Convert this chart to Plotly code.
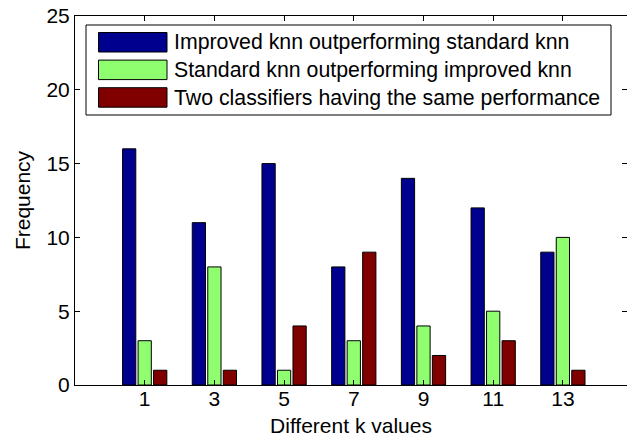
import plotly.graph_objects as go

# k values on the x axis
k_values = [1, 3, 5, 7, 9, 11, 13]

# frequency counts per comparison outcome
improved_better = [16, 11, 15, 8, 14, 12, 9]
standard_better = [3, 8, 1, 3, 4, 5, 10]
same_performance = [1, 1, 4, 9, 2, 3, 1]

series_names = [
    "Improved knn outperforming standard knn",
    "Standard knn outperforming improved knn",
    "Two classifiers having the same performance",
]
series_values = [improved_better, standard_better, same_performance]
series_colors = ["#00008F", "#8FFF70", "#800000"]

y_ticks = [0, 5, 10, 15, 20, 25]

FONT = "Arial, Liberation Sans, sans-serif"

fig = go.Figure()
for name, vals, col in zip(series_names, series_values, series_colors):
    fig.add_trace(go.Bar(
        x=k_values, y=vals, name=name,
        marker=dict(color=col, line=dict(color="#000000", width=1)),
        showlegend=False,
    ))

W, H = 627, 441
ml, mr, mt, mb = 75, 0, 16, 56
pw, ph = W - ml - mr, H - mt - mb


def px_x(px):
    return (px - ml) / pw


def px_y(py):
    return (H - mb - py) / ph


# boxed legend with wide swatches
shapes = [dict(type="rect", xref="paper", yref="paper",
               x0=px_x(86), x1=px_x(611), y0=px_y(115), y1=px_y(25),
               line=dict(color="#000000", width=1), fillcolor="#ffffff",
               layer="above")]
annotations = []
row_top = 32.5
row_step = 27.6
for i, (name, col) in enumerate(zip(series_names, series_colors)):
    t = row_top + i * row_step
    shapes.append(dict(type="rect", xref="paper", yref="paper",
                       x0=px_x(98.5), x1=px_x(167), y0=px_y(t + 19.5), y1=px_y(t),
                       line=dict(color="#000000", width=1), fillcolor=col,
                       layer="above"))
    annotations.append(dict(xref="paper", yref="paper", x=px_x(172), y=px_y(t + 9.8),
                            text=name, showarrow=False, xanchor="left", yanchor="middle",
                            font=dict(family=FONT, size=21.3, color="#000000")))

fig.update_layout(
    width=W, height=H,
    margin=dict(l=ml, r=mr, t=mt, b=mb),
    paper_bgcolor="#ffffff", plot_bgcolor="#ffffff",
    barmode="group", bargap=0.3325, bargroupgap=0.146,
    font=dict(family=FONT, size=21, color="#000000"),
    shapes=shapes, annotations=annotations,
)
fig.update_xaxes(
    range=[-1, 14.84], tickvals=k_values, ticktext=[str(k) for k in k_values],
    ticks="inside", ticklen=5, tickcolor="#000000", ticklabelstandoff=-5,
    showline=True, linecolor="#000000", linewidth=1, mirror="ticks",
    showgrid=False, zeroline=False,
    title=dict(text="Different k values", font=dict(size=21), standoff=9),
)
fig.update_yaxes(
    range=[0, 25], tickvals=y_ticks,
    ticks="inside", ticklen=5, tickcolor="#000000",
    showline=True, linecolor="#000000", linewidth=1, mirror="ticks",
    showgrid=False, zeroline=False,
    title=dict(text="Frequency", font=dict(size=21), standoff=10),
)

fig.write_html("out.html")
